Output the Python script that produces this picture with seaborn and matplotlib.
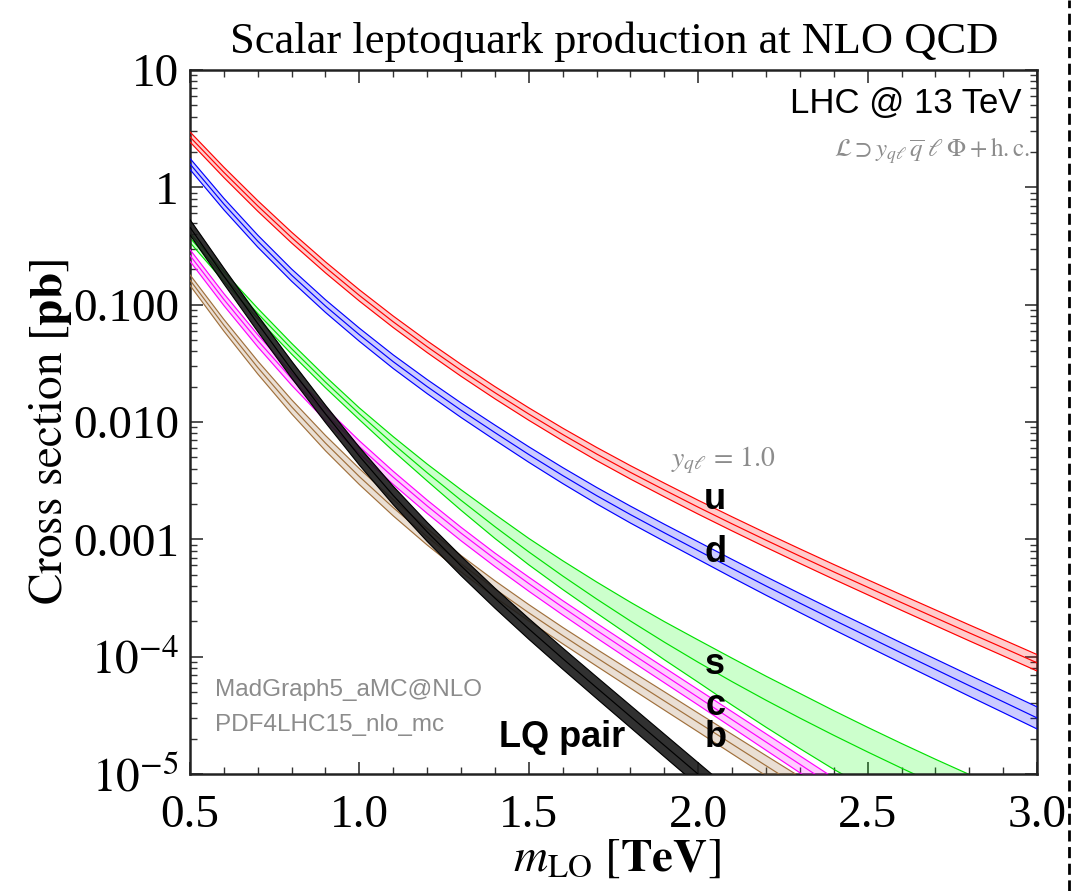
import numpy as np
import matplotlib
matplotlib.use("Agg")
import matplotlib.pyplot as plt
from matplotlib.lines import Line2D
import seaborn as sns

# Leptoquark mass grid [TeV]
mass = [0.5, 0.6, 0.7, 0.8, 0.9, 1.0, 1.1, 1.2, 1.3, 1.4, 1.5, 1.6, 1.7,
        1.8, 1.9, 2.0, 2.1, 2.2, 2.3, 2.4, 2.5, 2.6, 2.7, 2.8, 2.9, 3.0]

# log10 of the central NLO cross sections in pb (single production, y_ql = 1.0; pair production)
lg_xs_u = [0.43, 0.128, -0.158, -0.428, -0.682, -0.921, -1.146, -1.358, -1.559, -1.75,
           -1.932, -2.106, -2.272, -2.429, -2.579, -2.726, -2.868, -3.007, -3.143, -3.277,
           -3.408, -3.539, -3.668, -3.797, -3.924, -4.052]
lg_xs_d = [0.2, -0.142, -0.458, -0.748, -1.012, -1.256, -1.486, -1.698, -1.899, -2.09,
           -2.277, -2.456, -2.627, -2.789, -2.944, -3.096, -3.248, -3.397, -3.543, -3.687,
           -3.828, -3.969, -4.108, -4.247, -4.384, -4.522]
lg_xs_s = [-0.43, -0.76, -1.075, -1.375, -1.66, -1.93, -2.187, -2.432, -2.667, -2.892,
           -3.107, -3.312, -3.508, -3.696, -3.876, -4.048, -4.213, -4.371, -4.523, -4.67,
           -4.812, -4.95, -5.084, -5.214, -5.341, -5.466]
lg_xs_c = [-0.58, -0.955, -1.305, -1.63, -1.93, -2.21, -2.47, -2.715, -2.947, -3.167,
           -3.377, -3.579, -3.775, -3.967, -4.157, -4.347, -4.537, -4.727, -4.917, -5.107,
           -5.297]
lg_xs_b = [-0.79, -1.175, -1.535, -1.87, -2.18, -2.465, -2.73, -2.978, -3.208, -3.423,
           -3.626, -3.82, -4.008, -4.193, -4.377, -4.561, -4.745, -4.929, -5.113, -5.297]
lg_xs_pair = [-0.34, -0.755, -1.16, -1.553, -1.931, -2.291, -2.626, -2.936, -3.226, -3.501,
              -3.763, -4.016, -4.264, -4.51, -4.756, -5.002, -5.248, -5.494]

# Scale-uncertainty half widths of the bands, in decades (up, down)
unc_u = [0.043, 0.044, 0.045, 0.046, 0.047, 0.048, 0.049, 0.05, 0.051, 0.052, 0.053, 0.054,
         0.056, 0.057, 0.058, 0.059, 0.06, 0.061, 0.062, 0.063, 0.064, 0.066, 0.067, 0.068,
         0.069, 0.07]
unc_d = [0.047, 0.049, 0.051, 0.052, 0.054, 0.056, 0.058, 0.06, 0.062, 0.064, 0.066, 0.068,
         0.07, 0.072, 0.073, 0.075, 0.077, 0.079, 0.081, 0.083, 0.085, 0.086, 0.088, 0.09,
         0.092, 0.094]
unc_s_up = [0.04, 0.042, 0.044, 0.046, 0.048, 0.05, 0.062, 0.074, 0.09, 0.105, 0.115, 0.13,
            0.145, 0.16, 0.175, 0.19, 0.2, 0.205, 0.21, 0.21, 0.21, 0.21, 0.21, 0.21, 0.21, 0.21]
unc_s_dn = [0.04, 0.042, 0.044, 0.046, 0.048, 0.05, 0.06, 0.07, 0.085, 0.1, 0.11, 0.115,
            0.12, 0.13, 0.15, 0.17, 0.2, 0.23, 0.26, 0.29, 0.31, 0.33, 0.35, 0.37, 0.39, 0.41]
unc_c_up = [0.05, 0.05, 0.05, 0.05, 0.05, 0.05, 0.05, 0.05, 0.05, 0.05, 0.055, 0.057, 0.06,
            0.062, 0.064, 0.066, 0.068, 0.07, 0.072, 0.074, 0.076]
unc_c_dn = [0.05, 0.052, 0.054, 0.056, 0.058, 0.06, 0.062, 0.064, 0.065, 0.065, 0.065, 0.065,
            0.065, 0.065, 0.065, 0.065, 0.067, 0.07, 0.072, 0.074, 0.076]
unc_b = [0.045, 0.05, 0.055, 0.06, 0.065, 0.068, 0.07, 0.07, 0.07, 0.07, 0.07, 0.07, 0.072,
         0.075, 0.078, 0.08, 0.083, 0.086, 0.09, 0.09]
unc_pair = [0.065, 0.067, 0.069, 0.072, 0.074, 0.076, 0.078, 0.081, 0.083, 0.085, 0.088,
            0.09, 0.092, 0.094, 0.096, 0.098, 0.1, 0.1]

ytick_vals = [1e-5, 1e-4, 1e-3, 1e-2, 1e-1, 1, 10]
ytick_labels = [r"$10^{-5}$", r"$10^{-4}$", "0.001", "0.010", "0.100", "1", "10"]
xtick_vals = [0.5, 1.0, 1.5, 2.0, 2.5, 3.0]
xtick_labels = ["0.5", "1.0", "1.5", "2.0", "2.5", "3.0"]

sns.set_theme(style="ticks")
plt.rcParams["font.family"] = ["Liberation Serif", "DejaVu Serif"]
plt.rcParams["mathtext.fontset"] = "stix"
plt.rcParams["text.color"] = "black"

fig = plt.figure(figsize=(10.72, 8.91), dpi=100)
ax = fig.add_axes([0.1772, 0.1313, 0.7902, 0.7901])

# (log10 central, up, down, line colour, fill colour, fill alpha, z-order)
series = [
    (lg_xs_s, unc_s_up, unc_s_dn, "#00e000", "#00ff00", 0.20, 2),
    (lg_xs_c, unc_c_up, unc_c_dn, "#ff00ff", "#ff00ff", 0.20, 3),
    (lg_xs_b, unc_b, unc_b, "#a0703c", "#a0703c", 0.22, 4),
    (lg_xs_d, unc_d, unc_d, "#0000ff", "#0000ff", 0.20, 5),
    (lg_xs_u, unc_u, unc_u, "#ff0000", "#ff0000", 0.20, 6),
    (lg_xs_pair, unc_pair, unc_pair, "#000000", "#1a1a1a", 0.90, 7),
]

for lg, up, dn, lc, fc, fa, z in series:
    m = np.array(mass[:len(lg)])
    lg = np.array(lg)
    c = 10.0 ** lg
    hi = 10.0 ** (lg + np.array(up))
    lo = 10.0 ** (lg - np.array(dn))
    ax.fill_between(m, lo, hi, color=fc, alpha=fa, lw=0, zorder=z)
    for vals in (lo, c, hi):
        sns.lineplot(x=m, y=vals, color=lc, lw=0.85, ax=ax, zorder=z + 0.5,
                     estimator=None, sort=False)

ax.set_yscale("log")
ax.set_xlim(0.5, 3.0)
ax.set_ylim(1e-5, 10)
ax.set_xticks(xtick_vals)
ax.set_xticklabels(xtick_labels)
ax.set_yticks(ytick_vals)
ax.set_yticklabels(ytick_labels)
ax.xaxis.set_minor_locator(matplotlib.ticker.MultipleLocator(0.1))
ax.yaxis.set_minor_locator(matplotlib.ticker.LogLocator(base=10, subs=np.arange(2, 10)))
ax.yaxis.set_minor_formatter(matplotlib.ticker.NullFormatter())
ax.tick_params(which="both", direction="in", top=True, right=True, colors="#333333",
               labelcolor="black")
ax.tick_params(which="major", length=9, width=1.2)
ax.tick_params(which="minor", length=5, width=1.0)
ax.tick_params(axis="y", which="major", labelsize=34, pad=8)
ax.tick_params(axis="x", which="major", labelsize=34, pad=15)
for sp in ax.spines.values():
    sp.set_linewidth(1.8)
    sp.set_color("#222222")
ax.set_xlabel("")
ax.set_ylabel("")

fig.text(0.573, 0.953, "Scalar leptoquark production at NLO QCD", ha="center", va="center",
         fontsize=32, color="black")
fig.text(0.047, 0.515, r"$\mathrm{Cross\ section}\ [\mathbf{pb}]$", rotation=90,
         ha="center", va="center", fontsize=34, color="black")
fig.text(0.575, 0.035, r"$m_{\mathrm{LO}}\ [\mathbf{TeV}]$", ha="center", va="center",
         fontsize=34, color="black")

sans = ["Liberation Sans", "DejaVu Sans"]
ax.text(0.982, 0.953, "LHC @ 13 TeV", transform=ax.transAxes, ha="right", va="center",
        fontsize=25, family=sans, color="black")
ax.text(0.992, 0.886, r"$\mathcal{L}\supset y_{q\ell}\,\overline{q}\;\ell\;\mathit{\Phi}+\mathrm{h.c.}$",
        transform=ax.transAxes, ha="right", va="center", fontsize=18, color="#8c8c8c")
ax.text(0.63, 0.446, r"$y_{q\ell}\,=\,1.0$", transform=ax.transAxes, ha="center",
        va="center", fontsize=20, color="#8c8c8c")
ax.text(0.0295, 0.119, "MadGraph5_aMC@NLO", transform=ax.transAxes, ha="left",
        va="center", fontsize=17.5, color="#8c8c8c", family=sans)
ax.text(0.0295, 0.0696, "PDF4LHC15_nlo_mc", transform=ax.transAxes, ha="left",
        va="center", fontsize=17.5, color="#8c8c8c", family=sans)

for lab, yv in [("u", 2.17e-3), ("d", 7.66e-4), ("s", 8.5e-5), ("c", 3.87e-5), ("b", 2.03e-5)]:
    ax.text(2.05, yv, lab, ha="center", va="center", fontsize=26, fontweight="bold",
            family=sans, color="black", zorder=10)
ax.text(1.785, 2.03e-5, "LQ pair", ha="right", va="center", fontsize=26,
        fontweight="bold", family=sans, color="black", zorder=10)

# dashed frame edge on the right-hand side of the canvas
fig.add_artist(Line2D([0.9972, 0.9972], [0.0, 1.0], transform=fig.transFigure,
                      color="black", lw=2.0, ls=(0, (4, 2))))

fig.savefig("out.png", dpi=100)
